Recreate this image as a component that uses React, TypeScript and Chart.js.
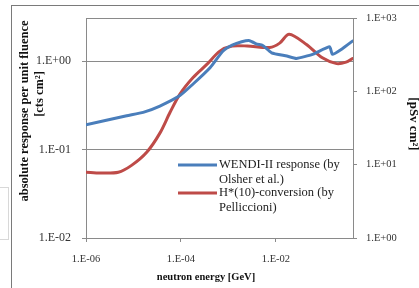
import React, { useEffect, useRef } from "react";
import { Chart, registerables } from "chart.js";

Chart.register(...registerables);

// Energy axis (GeV)
const X_TICKS = [1e-6, 1e-4, 1e-2];
const LEFT_TICKS = [0.01, 0.1, 1];
const RIGHT_TICKS = [1, 10, 100, 1000];

// WENDI-II response (cts cm^2), left axis
const WENDI_ENERGY = [
  1.0e-6, 7.2e-6, 1.6e-5, 3.6e-5, 9.5e-5, 1.8e-4, 4.1e-4, 7.6e-4, 1.2e-3, 1.9e-3,
  2.8e-3, 4.0e-3, 5.2e-3, 8.1e-3, 1.7e-2, 2.7e-2, 5.9e-2, 0.135, 0.155, 0.25, 0.41,
];
const WENDI_RESPONSE = [
  0.19, 0.241, 0.263, 0.31, 0.407, 0.55, 0.84, 1.29, 1.51, 1.65,
  1.7, 1.55, 1.51, 1.24, 1.14, 1.07, 1.19, 1.45, 1.19, 1.38, 1.68,
];

// H*(10) conversion (pSv cm^2), right axis
const HSTAR_ENERGY = [
  1.0e-6, 2.0e-6, 4.8e-6, 9.1e-6, 1.9e-5, 3.6e-5, 5.9e-5, 9.5e-5, 1.8e-4, 3.5e-4,
  6.6e-4, 1.2e-3, 2.5e-3, 7.4e-3, 1.2e-2, 1.9e-2, 4.4e-2, 9.5e-2, 0.19, 0.3, 0.41,
];
const HSTAR_CONVERSION = [
  7.9, 7.7, 7.9, 9.8, 14.8, 27, 52, 92, 155, 234,
  355, 417, 417, 398, 457, 603, 437, 288, 240, 251, 282,
];

const SERIES_LABELS = [
  ["WENDI-II response (by", "Olsher et al.)"],
  ["H*(10)-conversion (by", "Pelliccioni)"],
];
const X_TITLE = "neutron energy [GeV]";
const LEFT_TITLE = ["absolute response per unit fluence", "[cts cm²]"];
const RIGHT_TITLE = "[pSv cm²]";

const BLUE = "#4A7EBB";
const RED = "#BE4B48";
const SERIF = "'Liberation Serif', 'Times New Roman', serif";

function fmtExp(v: number): string {
  const e = Math.round(Math.log10(v));
  const s = e < 0 ? "-" : "+";
  const a = Math.abs(e);
  return `1.E${s}${a < 10 ? "0" : ""}${a}`;
}

const decorPlugin = {
  id: "decor",
  beforeDatasetsDraw(chart: any) {
    const { ctx, chartArea } = chart;
    ctx.save();
    ctx.strokeStyle = "#8a8a8a";
    ctx.lineWidth = 1;
    ctx.strokeRect(
      Math.round(chartArea.left) + 0.5,
      Math.round(chartArea.top) + 0.5,
      Math.round(chartArea.right - chartArea.left),
      Math.round(chartArea.bottom - chartArea.top)
    );
    ctx.restore();
  },
  afterDraw(chart: any) {
    const { ctx } = chart;
    ctx.save();
    // legend
    const colors = [BLUE, RED];
    const rows = [165, 193];
    ctx.font = `12.5px ${SERIF}`;
    ctx.textBaseline = "middle";
    ctx.textAlign = "left";
    SERIES_LABELS.forEach((lines, i) => {
      const y = rows[i];
      ctx.strokeStyle = colors[i];
      ctx.lineWidth = 3;
      ctx.beginPath();
      ctx.moveTo(178, y);
      ctx.lineTo(217, y);
      ctx.stroke();
      ctx.fillStyle = "#222";
      lines.forEach((t, j) => ctx.fillText(t, 219, y + j * 14.5));
    });
    // axis titles
    ctx.fillStyle = "#111";
    ctx.textAlign = "center";
    ctx.font = `bold 10.5px ${SERIF}`;
    ctx.fillText(X_TITLE, 206, 277);

    ctx.font = `bold 12.5px ${SERIF}`;
    ctx.save();
    ctx.translate(25, 111);
    ctx.rotate(-Math.PI / 2);
    ctx.fillText(LEFT_TITLE[0], 0, 0);
    ctx.restore();
    ctx.save();
    ctx.translate(40, 94);
    ctx.rotate(-Math.PI / 2);
    ctx.fillText(LEFT_TITLE[1], 0, 0);
    ctx.restore();

    ctx.font = `bold 13px ${SERIF}`;
    ctx.save();
    ctx.translate(413, 124);
    ctx.rotate(Math.PI / 2);
    ctx.fillText(RIGHT_TITLE, 0, 0);
    ctx.restore();
    ctx.restore();
  },
};

export default function App() {
  const ref = useRef<HTMLCanvasElement | null>(null);

  useEffect(() => {
    if (!ref.current) return;
    const chart = new Chart(ref.current, {
      type: "line",
      data: {
        datasets: [
          {
            label: SERIES_LABELS[0].join(" "),
            data: WENDI_ENERGY.map((x, i) => ({ x, y: WENDI_RESPONSE[i] })),
            borderColor: BLUE,
            borderWidth: 3,
            pointRadius: 0,
            tension: 0.15,
            yAxisID: "y",
            borderCapStyle: "round",
            borderJoinStyle: "round",
          },
          {
            label: SERIES_LABELS[1].join(" "),
            data: HSTAR_ENERGY.map((x, i) => ({ x, y: HSTAR_CONVERSION[i] })),
            borderColor: RED,
            borderWidth: 3,
            pointRadius: 0,
            tension: 0.3,
            yAxisID: "y2",
            borderCapStyle: "round",
            borderJoinStyle: "round",
          },
        ],
      },
      options: {
        responsive: false,
        maintainAspectRatio: false,
        animation: false,
        layout: { padding: { top: 17, left: 0, right: 0, bottom: 0 } },
        plugins: { legend: { display: false }, tooltip: { enabled: false } },
        scales: {
          x: {
            type: "logarithmic",
            position: "bottom",
            min: 1e-6,
            max: 0.42,
            afterBuildTicks: (s: any) => {
              s.ticks = X_TICKS.map((value) => ({ value }));
            },
            afterFit: (s: any) => {
              s.height = 50;
            },
            grid: { drawOnChartArea: false, drawTicks: true, tickLength: 4, color: "#8a8a8a" },
            border: { display: true, color: "#8a8a8a" },
            ticks: {
              autoSkip: false,
              maxRotation: 0,
              padding: 11,
              color: "#333",
              font: { family: SERIF, size: 10.5 },
              callback: (v: any) => fmtExp(Number(v)),
            },
          },
          y: {
            type: "logarithmic",
            position: "left",
            min: 0.01,
            max: 3.05,
            afterBuildTicks: (s: any) => {
              s.ticks = LEFT_TICKS.map((value) => ({ value }));
            },
            afterFit: (s: any) => {
              s.width = 86;
            },
            grid: { drawOnChartArea: true, drawTicks: true, tickLength: 4, color: "#8a8a8a" },
            border: { display: true, color: "#8a8a8a" },
            ticks: {
              padding: 11,
              color: "#333",
              font: { family: SERIF, size: 12 },
              callback: (v: any) => fmtExp(Number(v)),
            },
          },
          y2: {
            type: "logarithmic",
            position: "right",
            min: 1,
            max: 1000,
            afterBuildTicks: (s: any) => {
              s.ticks = RIGHT_TICKS.map((value) => ({ value }));
            },
            afterFit: (s: any) => {
              s.width = 66;
            },
            grid: { drawOnChartArea: false, drawTicks: true, tickLength: 4, color: "#8a8a8a" },
            border: { display: true, color: "#8a8a8a" },
            ticks: {
              padding: 9,
              color: "#333",
              font: { family: SERIF, size: 10.5 },
              callback: (v: any) => fmtExp(Number(v)),
            },
          },
        },
      },
      plugins: [decorPlugin],
    } as any);
    return () => chart.destroy();
  }, []);

  return (
    <div
      style={{
        position: "fixed",
        left: 0,
        top: 0,
        width: 419,
        height: 288,
        background: "#fff",
        overflow: "hidden",
      }}
    >
      <canvas ref={ref} width={419} height={288} style={{ position: "absolute", left: 0, top: 0, width: 419, height: 288 }} />
      <div
        style={{
          position: "absolute",
          left: 11,
          top: 5,
          width: 430,
          height: 300,
          border: "1px solid #7a7a7a",
          boxSizing: "border-box",
          pointerEvents: "none",
        }}
      />
      <div
        style={{
          position: "absolute",
          left: -3,
          top: 187,
          width: 12,
          height: 53,
          border: "1px solid #d8d8d8",
          boxSizing: "border-box",
          pointerEvents: "none",
        }}
      />
    </div>
  );
}
